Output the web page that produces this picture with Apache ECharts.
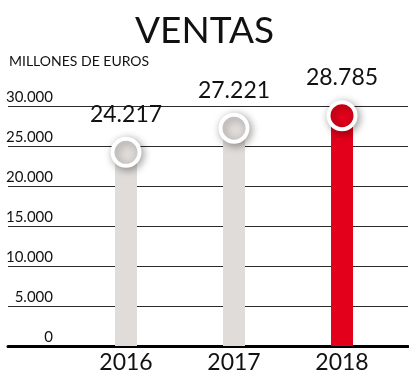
<!DOCTYPE html>
<html>
<head>
<meta charset="utf-8">
<script src="https://cdn.jsdelivr.net/npm/echarts@6/dist/echarts.min.js"></script>
<style>
  html, body { margin: 0; padding: 0; background: #fff; }
  #chart { width: 409px; height: 380px; }
</style>
</head>
<body>
<div id="chart"></div>
<script>
// Annual sales, million euros
const years = [2016, 2017, 2018];
const sales = [24217, 27221, 28785];
const yTicks = [0, 5000, 10000, 15000, 20000, 25000, 30000];
const highlightYear = 2018;

const GRAY = '#e0dcda';
const RED = '#e2001a';
const FONT = 'Lato, "Open Sans", sans-serif';

// Spanish number format with dot thousands separator
const fmt = v => String(v).replace(/\B(?=(\d{3})+(?!\d))/g, '.');

const points = years.map((y, i) => ({
  value: [y, sales[i]],
  itemStyle: { color: y === highlightYear ? RED : GRAY }
}));

const chart = echarts.init(document.getElementById('chart'), null, { renderer: 'canvas' });

chart.setOption({
  animation: false,
  backgroundColor: '#fff',
  title: [
    {
      text: 'VENTAS',
      left: 'center',
      top: 8,
      textStyle: { fontFamily: FONT, fontSize: 37, fontWeight: 'normal', color: '#111' }
    },
    {
      text: 'MILLONES DE EUROS',
      left: 4,
      top: 49,
      textStyle: { fontFamily: FONT, fontSize: 14, fontWeight: 'normal', color: '#111' }
    }
  ],
  grid: { left: 8, right: 1, top: 106, bottom: 34, containLabel: false },
  xAxis: {
    type: 'value',
    min: 2016 - 118 / 108,
    max: 2016 - 118 / 108 + 400 / 108,
    splitLine: { show: false },
    axisTick: { show: false },
    axisLine: { show: true, lineStyle: { color: '#000', width: 3 } },
    axisLabel: {
      customValues: years,
      formatter: v => String(Math.round(v)),
      fontFamily: FONT,
      fontSize: 23,
      color: '#111',
      margin: 5
    }
  },
  yAxis: {
    type: 'value',
    min: 0,
    max: 30000,
    interval: 5000,
    offset: -49,
    axisLine: { show: false },
    axisTick: { show: false },
    splitLine: { show: true, lineStyle: { color: '#2a2a2a', width: 1 } },
    axisLabel: {
      customValues: yTicks,
      formatter: v => fmt(v),
      fontFamily: FONT,
      fontSize: 15,
      color: '#111',
      margin: 4,
      verticalAlign: 'bottom',
      padding: [0, 0, 1, 0]
    }
  },
  series: [
    {
      type: 'bar',
      barWidth: 22,
      data: points,
      z: 2
    },
    {
      type: 'scatter',
      symbol: 'circle',
      symbolSize: 27,
      data: points,
      z: 3,
      itemStyle: {
        opacity: 1,
        borderColor: '#fff',
        borderWidth: 4,
        shadowBlur: 8,
        shadowOffsetX: 2,
        shadowOffsetY: 2,
        shadowColor: 'rgba(0,0,0,0.35)'
      },
      label: {
        show: true,
        position: 'top',
        distance: 11,
        formatter: p => fmt(p.value[1]),
        fontFamily: FONT,
        fontSize: 23,
        color: '#111'
      },
      emphasis: { disabled: true }
    }
  ]
});
</script>
</body>
</html>
